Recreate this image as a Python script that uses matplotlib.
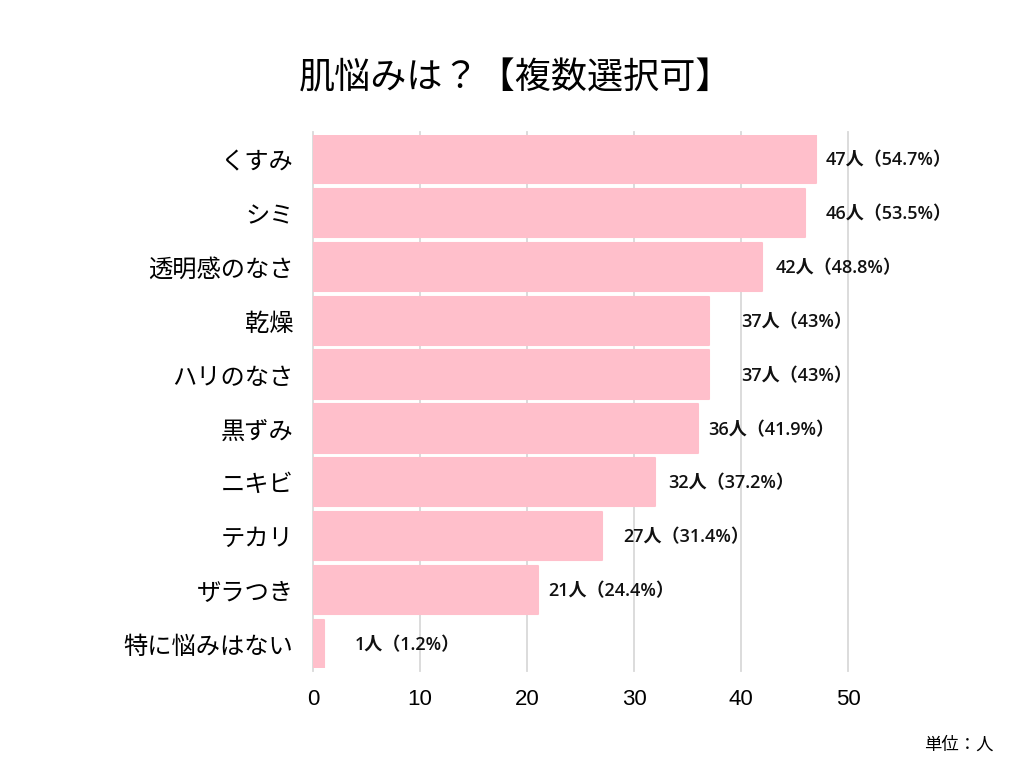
import matplotlib
matplotlib.use("Agg")
import matplotlib.pyplot as plt

plt.rcParams['font.family'] = ['Noto Sans CJK JP', 'DejaVu Sans']

# data
categories = ["くすみ", "シミ", "透明感のなさ", "乾燥", "ハリのなさ",
              "黒ずみ", "ニキビ", "テカリ", "ザラつき", "特に悩みはない"]
counts = [47, 46, 42, 37, 37, 36, 32, 27, 21, 1]
percents = ["54.7", "53.5", "48.8", "43", "43", "41.9", "37.2", "31.4", "24.4", "1.2"]
x_ticks = [0, 10, 20, 30, 40, 50]

# label gap after each bar end (pixels)
label_pad = [10, 20, 13, 32, 32, 10, 13, 21, 11, 31]

bar_color = "#FFBFCB"
grid_color = "#d9d9d9"

fig = plt.figure(figsize=(10.24, 7.68), dpi=100)
ax = fig.add_axes([313/1024, 1 - 668/768, (848-313)/1024, (668-135)/768])

ypos = list(range(len(categories)))
ax.barh(ypos, counts, height=0.9, color=bar_color, edgecolor=bar_color,
        linewidth=1.5, joinstyle='round', zorder=2)

for y, c, p, pad in zip(ypos, counts, percents, label_pad):
    ax.annotate(f"{c}人（{p}%）", xy=(c, y), xytext=(pad * 0.72, -1),
                textcoords="offset points", va="center", ha="left",
                fontsize=13, fontweight="semibold", color="#111111",
                family=['Open Sans', 'Noto Sans CJK JP'],
                annotation_clip=False)

ax.set_xlim(0, 50)
ax.set_ylim(len(categories) - 0.55, -0.45)
ax.set_xticks(x_ticks)
ax.set_xticklabels([str(t) for t in x_ticks], fontfamily="Liberation Sans",
                   fontsize=16)
ax.set_yticks(ypos)
ax.set_yticklabels(categories, fontsize=17.5)
ax.tick_params(axis="both", length=0)
ax.tick_params(axis="y", pad=14)
ax.tick_params(axis="x", pad=15)

for s in ax.spines.values():
    s.set_visible(False)
for t in x_ticks:
    ax.axvline(t, color=grid_color, linewidth=1.3, zorder=1,
               ymin=-0.005, ymax=1.005, clip_on=False)

fig.text(0.503, 1 - 78/768, "肌悩みは？【複数選択可】", ha="center", va="center",
         fontsize=26)
fig.text(0.97, 1 - 745/768, "単位：人", ha="right", va="center", fontsize=12.5)

fig.savefig("out.png", dpi=100, facecolor="white")
